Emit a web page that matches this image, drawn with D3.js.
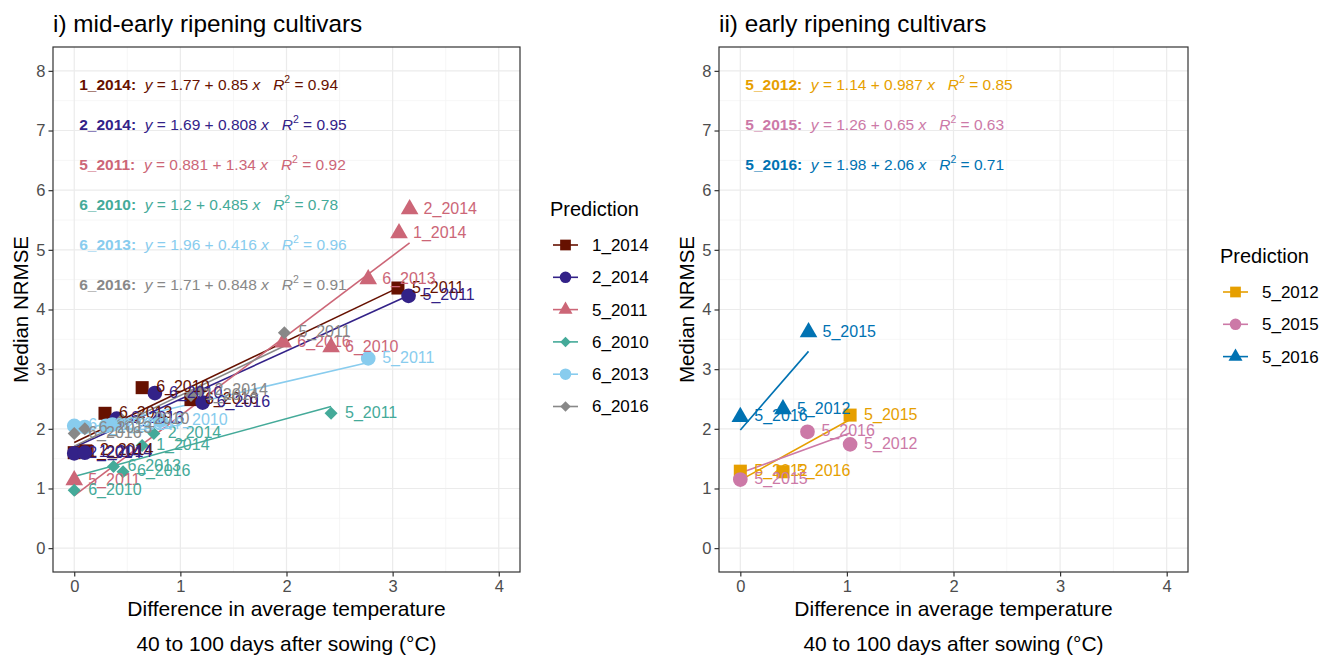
<!DOCTYPE html>
<html>
<head>
<meta charset="utf-8">
<script src="https://cdn.jsdelivr.net/npm/d3@7"></script>
<style>
body { margin: 0; background: #fff; }
text { font-family: "Liberation Sans", Arial, sans-serif; }
</style>
</head>
<body>
<div id="chart"></div>
<script>
// i) mid-early ripening cultivars
const midSeries = ["1_2014", "2_2014", "5_2011", "6_2010", "6_2013", "6_2016"];
const midColors = ["#661100", "#332288", "#CC6677", "#44AA99", "#88CCEE", "#888888"];
const midShapes = ["square", "circle", "triangle", "diamond", "circle", "diamond"];
const midIntercept = [1.77, 1.69, 0.881, 1.2, 1.96, 1.71];
const midSlope = [0.85, 0.808, 1.34, 0.485, 0.416, 0.848];
const midR2 = [0.94, 0.95, 0.92, 0.78, 0.96, 0.91];

const midPointSeries = [
    "1_2014", "1_2014", "1_2014", "1_2014", "1_2014", "1_2014",
    "2_2014", "2_2014", "2_2014", "2_2014", "2_2014", "2_2014",
    "5_2011", "5_2011", "5_2011", "5_2011", "5_2011", "5_2011",
    "6_2010", "6_2010", "6_2010", "6_2010", "6_2010", "6_2010",
    "6_2013", "6_2013", "6_2013", "6_2013", "6_2013", "6_2013",
    "6_2016", "6_2016", "6_2016", "6_2016", "6_2016", "6_2016"
];
const midPointLabel = [
    "1_2014", "2_2014", "6_2013", "6_2010", "6_2016", "5_2011",
    "2_2014", "1_2014", "6_2013", "6_2010", "6_2016", "5_2011",
    "5_2011", "6_2016", "6_2010", "6_2013", "1_2014", "2_2014",
    "6_2010", "6_2013", "6_2016", "1_2014", "2_2014", "5_2011",
    "6_2013", "6_2016", "1_2014", "2_2014", "6_2010", "5_2011",
    "6_2016", "6_2013", "6_2010", "1_2014", "2_2014", "5_2011"
];
const midPointX = [
    0, 0.11, 0.29, 0.64, 1.10, 3.05,
    0, 0.10, 0.40, 0.76, 1.21, 3.15,
    0, 1.97, 2.42, 2.77, 3.06, 3.16,
    0, 0.37, 0.46, 0.64, 0.75, 2.42,
    0, 0.10, 0.30, 0.36, 0.81, 2.77,
    0, 0.10, 0.45, 1.10, 1.19, 1.98
];
const midPointY = [
    1.60, 1.63, 2.26, 2.69, 2.49, 4.36,
    1.59, 1.60, 2.17, 2.60, 2.44, 4.23,
    1.14, 3.45, 3.37, 4.51, 5.28, 5.68,
    0.97, 1.37, 1.28, 1.72, 1.92, 2.26,
    2.05, 2.03, 2.05, 2.07, 2.14, 3.18,
    1.92, 2.00, 2.15, 2.56, 2.64, 3.61
];

// ii) early ripening cultivars
const earlySeries = ["5_2012", "5_2015", "5_2016"];
const earlyColors = ["#E69F00", "#CC79A7", "#0072B2"];
const earlyShapes = ["square", "circle", "triangle"];
const earlyIntercept = [1.14, 1.26, 1.98];
const earlySlope = [0.987, 0.65, 2.06];
const earlyR2 = [0.85, 0.63, 0.71];

const earlyPointSeries = ["5_2012", "5_2012", "5_2012", "5_2015", "5_2015", "5_2015", "5_2016", "5_2016", "5_2016"];
const earlyPointLabel = ["5_2012", "5_2016", "5_2015", "5_2015", "5_2016", "5_2012", "5_2016", "5_2012", "5_2015"];
const earlyPointX = [0, 0.40, 1.03, 0, 0.63, 1.03, 0, 0.40, 0.64];
const earlyPointY = [1.29, 1.28, 2.23, 1.15, 1.95, 1.74, 2.20, 2.33, 3.62];

const xTicks = [0, 1, 2, 3, 4];
const yTicks = [0, 1, 2, 3, 4, 5, 6, 7, 8];

const W = 1320, H = 656;
const svg = d3.select('#chart').append('svg')
    .attr('width', W)
    .attr('height', H);

function shapeType(s) {
    if (s === 'circle') return d3.symbolCircle;
    if (s === 'triangle') return d3.symbolTriangle;
    return d3.symbolSquare;
}
const plotSize = {square: 170, circle: 170, triangle: 135, diamond: 85};
const keySize = {square: 115, circle: 105, triangle: 85, diamond: 55};

function addSymbol(g, shape, cx, cy, size, color) {
    g.append('path')
        .attr('d', d3.symbol(shapeType(shape), size)())
        .attr('transform', `translate(${cx},${cy})` + (shape === 'diamond' ? ' rotate(45)' : ''))
        .attr('fill', color);
}

function drawPanel(cfg) {
    let x = d3.scaleLinear().domain([-0.2, 4.2]).range([cfg.left, cfg.right]);
    let y = d3.scaleLinear().domain([-0.4, 8.4]).range([cfg.bottom, cfg.top]);
    let colorOf = d3.scaleOrdinal().domain(cfg.series).range(cfg.colors);
    let shapeOf = d3.scaleOrdinal().domain(cfg.series).range(cfg.shapes);

    let g = svg.append('g');

    // grid
    let minorX = d3.range(0.5, 4, 1);
    let minorY = d3.range(0.5, 8, 1);
    g.selectAll('.mx').data(minorX).enter().append('line')
        .attr('x1', d => x(d)).attr('x2', d => x(d))
        .attr('y1', cfg.top).attr('y2', cfg.bottom)
        .attr('stroke', '#F4F4F4').attr('stroke-width', 0.8);
    g.selectAll('.my').data(minorY).enter().append('line')
        .attr('y1', d => y(d)).attr('y2', d => y(d))
        .attr('x1', cfg.left).attr('x2', cfg.right)
        .attr('stroke', '#F4F4F4').attr('stroke-width', 0.8);
    g.selectAll('.gx').data(xTicks).enter().append('line')
        .attr('x1', d => x(d)).attr('x2', d => x(d))
        .attr('y1', cfg.top).attr('y2', cfg.bottom)
        .attr('stroke', '#EBEBEB').attr('stroke-width', 1.2);
    g.selectAll('.gy').data(yTicks).enter().append('line')
        .attr('y1', d => y(d)).attr('y2', d => y(d))
        .attr('x1', cfg.left).attr('x2', cfg.right)
        .attr('stroke', '#EBEBEB').attr('stroke-width', 1.2);

    let pts = cfg.pX.map((v, i) => ({series: cfg.pSeries[i], label: cfg.pLabel[i], x: v, y: cfg.pY[i]}));

    // fitted lines over each series' x range
    cfg.series.forEach((s, i) => {
        let xs = pts.filter(p => p.series === s).map(p => p.x);
        let x0 = d3.min(xs), x1 = d3.max(xs);
        g.append('line')
            .attr('x1', x(x0)).attr('y1', y(cfg.intercept[i] + cfg.slope[i] * x0))
            .attr('x2', x(x1)).attr('y2', y(cfg.intercept[i] + cfg.slope[i] * x1))
            .attr('stroke', cfg.colors[i])
            .attr('stroke-width', 1.6);
    });

    pts.forEach(p => addSymbol(g, shapeOf(p.series), x(p.x), y(p.y), plotSize[shapeOf(p.series)], colorOf(p.series)));

    g.selectAll('.plabel').data(pts).enter().append('text')
        .attr('x', d => x(d.x) + 14)
        .attr('y', d => y(d.y) - 1)
        .attr('dy', '0.35em')
        .style('font-size', '16px')
        .attr('fill', d => colorOf(d.series))
        .text(d => d.label);

    // equations
    cfg.series.forEach((s, i) => {
        let t = g.append('text')
            .attr('x', x(0) + 5)
            .attr('y', 89.5 + 40 * i)
            .attr('fill', cfg.colors[i])
            .style('font-size', '15.5px')
            .style('white-space', 'pre');
        t.append('tspan').style('font-weight', 'bold').text(s + ':');
        t.append('tspan').text('  ');
        t.append('tspan').style('font-style', 'italic').text('y');
        t.append('tspan').text(' = ' + cfg.intercept[i] + ' + ' + cfg.slope[i] + ' ');
        t.append('tspan').style('font-style', 'italic').text('x');
        t.append('tspan').text('   ');
        t.append('tspan').style('font-style', 'italic').text('R');
        t.append('tspan').attr('dy', -7).style('font-size', '10.5px').text('2');
        t.append('tspan').attr('dy', 7).text(' = ' + cfg.r2[i]);
    });

    // border
    g.append('rect')
        .attr('x', cfg.left).attr('y', cfg.top)
        .attr('width', cfg.right - cfg.left).attr('height', cfg.bottom - cfg.top)
        .attr('fill', 'none').attr('stroke', '#333333').attr('stroke-width', 1.2);

    // axes
    let yAxis = g.append('g')
        .attr('transform', `translate(${cfg.left},0)`)
        .call(d3.axisLeft(y).tickValues(yTicks).tickFormat(d3.format('d')).tickSize(4.5).tickPadding(3));
    let xAxis = g.append('g')
        .attr('transform', `translate(0,${cfg.bottom})`)
        .call(d3.axisBottom(x).tickValues(xTicks).tickFormat(d3.format('d')).tickSize(4.5).tickPadding(4));
    [xAxis, yAxis].forEach(a => {
        a.select('.domain').remove();
        a.selectAll('line').attr('stroke', '#333333').attr('stroke-width', 1.2);
        a.selectAll('text').attr('fill', '#4D4D4D')
            .style('font-size', '16.5px')
            .style('font-family', '"Liberation Sans", Arial, sans-serif');
    });

    // titles
    svg.append('text')
        .attr('x', cfg.left).attr('y', 31.5)
        .style('font-size', '24.3px')
        .attr('fill', '#000')
        .text(cfg.title);

    let cx = (cfg.left + cfg.right) / 2;
    svg.append('text')
        .attr('x', cx).attr('y', 616)
        .attr('text-anchor', 'middle')
        .style('font-size', '21px')
        .text('Difference in average temperature');
    svg.append('text')
        .attr('x', cx).attr('y', 651)
        .attr('text-anchor', 'middle')
        .style('font-size', '21px')
        .text('40 to 100 days after sowing (°C)');

    svg.append('text')
        .attr('transform', `translate(${cfg.left - 25},${(cfg.top + cfg.bottom) / 2}) rotate(-90)`)
        .attr('text-anchor', 'middle')
        .style('font-size', '20.5px')
        .text('Median NRMSE');

    // legend
    let lg = svg.append('g');
    lg.append('text')
        .attr('x', cfg.legendX).attr('y', cfg.legendY)
        .style('font-size', '20px')
        .text('Prediction');
    cfg.series.forEach((s, i) => {
        let ky = cfg.legendY + 29 + 32.3 * i;
        lg.append('line')
            .attr('x1', cfg.legendX + 3).attr('x2', cfg.legendX + 28)
            .attr('y1', ky).attr('y2', ky)
            .attr('stroke', cfg.colors[i]).attr('stroke-width', 1.6);
        addSymbol(lg, cfg.shapes[i], cfg.legendX + 15.5, ky, keySize[cfg.shapes[i]], cfg.colors[i]);
        lg.append('text')
            .attr('x', cfg.legendX + 42).attr('y', ky)
            .attr('dy', '0.35em')
            .style('font-size', '17px')
            .text(s);
    });
}

drawPanel({
    left: 53, right: 520, top: 47, bottom: 572,
    title: 'i) mid-early ripening cultivars',
    series: midSeries, colors: midColors, shapes: midShapes,
    intercept: midIntercept, slope: midSlope, r2: midR2,
    pSeries: midPointSeries, pLabel: midPointLabel, pX: midPointX, pY: midPointY,
    legendX: 550, legendY: 216
});

drawPanel({
    left: 719, right: 1188, top: 47, bottom: 572,
    title: 'ii) early ripening cultivars',
    series: earlySeries, colors: earlyColors, shapes: earlyShapes,
    intercept: earlyIntercept, slope: earlySlope, r2: earlyR2,
    pSeries: earlyPointSeries, pLabel: earlyPointLabel, pX: earlyPointX, pY: earlyPointY,
    legendX: 1220, legendY: 263
});
</script>
</body>
</html>
